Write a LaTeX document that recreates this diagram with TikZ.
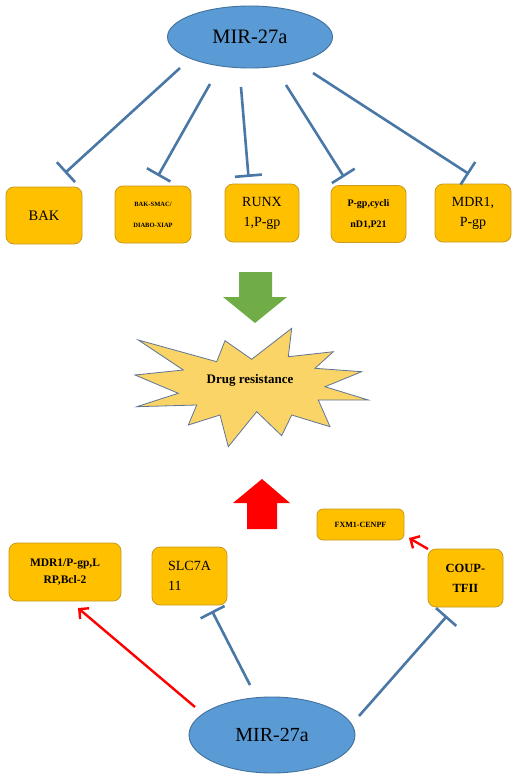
\documentclass[tikz,border=0pt]{standalone}
\usepackage{fontspec}
\setmainfont{Liberation Serif}
\usetikzlibrary{arrows.meta,shapes.geometric}
\definecolor{ellfill}{HTML}{5B9BD5}
\definecolor{elldraw}{HTML}{41719C}
\definecolor{boxfill}{HTML}{FFC000}
\definecolor{boxdraw}{HTML}{C59A1E}
\definecolor{inhcol}{HTML}{4A78A6}
\definecolor{greenarr}{HTML}{70AD47}
\definecolor{redarr}{HTML}{FF0000}
\definecolor{burstfill}{HTML}{FAD466}
\definecolor{burstdraw}{HTML}{5F7597}
\tikzset{
  mir/.style={ellipse, draw=elldraw, fill=ellfill, line width=0.9pt, inner sep=0pt,
    font=\fontsize{20.5}{24}\selectfont},
  gbox/.style={draw=boxdraw, fill=boxfill, rounded corners=8pt, line width=0.8pt,
    inner sep=0pt, align=center},
  inh/.style={draw=inhcol, line width=2.6pt, -{Bar[width=27pt,line width=2.6pt]}},
  act/.style={draw=redarr, line width=2.4pt, -{Straight Barb[length=7pt,width=14pt,line width=2.4pt]}},
}
\begin{document}
\begin{tikzpicture}[x=1pt,y=-1pt]
\useasboundingbox (0,0) rectangle (514,781);
\fill[white] (0,0) rectangle (514,781);
% top ellipse
\node[mir, minimum width=165pt, minimum height=62pt] (top) at (250,37) {MIR-27a};
% top boxes
\node[gbox, minimum width=76pt, minimum height=57pt, font=\fontsize{14.5}{20}\selectfont] (bak) at (44,215.5) {BAK};
\node[gbox, minimum width=76pt, minimum height=57pt, font=\fontsize{6.5}{21}\selectfont\bfseries] (bsm) at (153,214.5) {BAK-SMAC/\\DIABO-XIAP};
\node[gbox, minimum width=74pt, minimum height=58pt, font=\fontsize{14}{20}\selectfont] (runx) at (262,213) {RUNX\\1,P-gp};
\node[gbox, minimum width=75pt, minimum height=57pt, font=\fontsize{10}{21}\selectfont\bfseries] (pgp) at (368.5,214) {P-gp,cycli\\nD1,P21};
\node[gbox, minimum width=76pt, minimum height=58pt, font=\fontsize{14}{20}\selectfont] (mdr) at (473,213) {MDR1,\\P-gp};
% connector ends
\coordinate (s1) at (180,68);  \coordinate (e1) at (65,173);
\coordinate (s2) at (210,84);  \coordinate (e2) at (158,176);
\coordinate (s3) at (241,87);  \coordinate (e3) at (248.5,177);
\coordinate (s4) at (286,85);  \coordinate (e4) at (344,177);
\coordinate (s5) at (313,73);  \coordinate (e5) at (469,174);
\draw[inh] (s1) -- (e1);
\draw[inh] (s2) -- (e2);
\draw[inh] (s3) -- (e3);
\draw[inh] (s4) -- (e4);
\draw[inh] (s5) -- (e5);
% green arrow
\fill[greenarr] (239,272) -- (272,272) -- (272,297) -- (287,297) -- (255,323) -- (223,297) -- (239,297) -- cycle;
% starburst
\draw[fill=burstfill, draw=burstdraw, line width=0.8pt, line join=miter]
 (138.3,340) -- (216.7,361.7) -- (225,340.7) -- (251.7,359.3) -- (291.7,328.3)
 -- (288.3,356.7) -- (333.3,351.7) -- (315,368.3) -- (361.7,371.7) -- (325,386.7)
 -- (368.3,400) -- (318.3,400) -- (330,426.7) -- (291.7,415) -- (281.7,435.7)
 -- (256.7,411.7) -- (228.3,446.7) -- (220,415) -- (188.3,425) -- (196.7,405)
 -- (136.7,406.7) -- (178.3,393.3) -- (135,375) -- (183.3,370) -- cycle;
\node[font=\fontsize{13}{15}\selectfont\bfseries] (drug) at (250,380) {Drug resistance};
% red up arrow
\fill[redarr] (247,529) -- (277,529) -- (277,503) -- (290,503) -- (262,479) -- (233,503) -- (247,503) -- cycle;
% bottom boxes
\node[gbox, minimum width=112pt, minimum height=58pt, font=\fontsize{11.5}{17}\selectfont\bfseries] (mdrb) at (65,572) {MDR1/P-gp,L\\RP,Bcl-2};
\node[gbox, minimum width=75pt, minimum height=58pt, align=left, font=\fontsize{14}{20}\selectfont] (slc) at (189.5,576) {SLC7A\\11};
\node[gbox, minimum width=87pt, minimum height=31pt, rounded corners=6pt, font=\fontsize{8}{10}\selectfont\bfseries] (fxm) at (360.5,524.5) {FXM1-CENPF};
\node[gbox, minimum width=75pt, minimum height=58pt, font=\fontsize{12.5}{20}\selectfont\bfseries] (coup) at (465.5,578) {COUP-\\TFII};
% bottom ellipse
\node[mir, minimum width=166pt, minimum height=76pt, font=\fontsize{20}{24}\selectfont] (bot) at (272,735) {MIR-27a};
% bottom connectors
\coordinate (b1) at (195,707); \coordinate (f1) at (78,608);
\coordinate (b2) at (250,685); \coordinate (f2) at (212,611);
\coordinate (b3) at (359,716); \coordinate (f3) at (447,616);
\coordinate (c1) at (428,549); \coordinate (c2) at (409,538);
\draw[act] (b1) -- (f1);
\draw[inh] (b2) -- (f2);
\draw[inh] (b3) -- (f3);
\draw[act] (c1) -- (c2);
\end{tikzpicture}
\end{document}
